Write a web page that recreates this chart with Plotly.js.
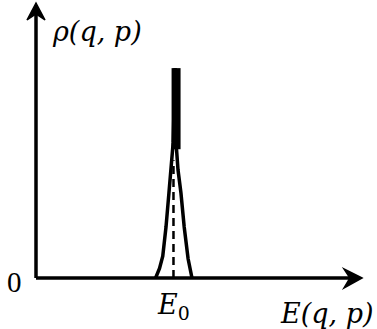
<!DOCTYPE html>
<html>
<head>
<meta charset="utf-8">
<script src="https://cdn.plot.ly/plotly-3.0.1.min.js"></script>
<style>html,body{margin:0;padding:0;background:#fff;}#chart{width:377px;height:329px;}</style>
</head>
<body>
<div id="chart"></div>
<script>
// Data (energy and density in arbitrary units)
const E0 = 4.23;
const curveX = [3.68, 3.80, 3.90, 4.00, 4.09, 4.15, 4.22, 4.28, 4.31, 4.37, 4.46, 4.56, 4.68, 4.80];
const curveY = [0.000, 0.035, 0.080, 0.186, 0.310, 0.394, 0.493, 0.766, 0.493, 0.394, 0.310, 0.186, 0.070, 0.000];
const peakX = 4.31;
const peakBarY = [0.47, 0.766];
const dashY = [0.0, 0.43];
const xLabel = 'E(q, p)';
const yLabel = 'ρ(q, p)';
const tickZero = '0';
const tickE0 = 'E';

const W = 377, H = 329;
const M = {l: 36, r: 16, t: 4, b: 51};
const pw = W - M.l - M.r, ph = H - M.t - M.b;
const px = x => (x - M.l) / pw;
const py = y => (H - M.b - y) / ph;

const font = 'DejaVu Serif, serif';

const traces = [
  {x: curveX, y: curveY, mode: 'lines', line: {color: '#000', width: 3.5}, hoverinfo: 'skip'},
  {x: [peakX, peakX], y: peakBarY, mode: 'lines', line: {color: '#000', width: 9}, hoverinfo: 'skip'},
  {x: [E0, E0], y: dashY, mode: 'lines', line: {color: '#000', width: 2.5, dash: '8px,5px'}, hoverinfo: 'skip'}
];

const layout = {
  width: W, height: H,
  margin: M,
  paper_bgcolor: '#fff', plot_bgcolor: '#fff',
  showlegend: false,
  xaxis: {range: [0, 10], visible: false, fixedrange: true},
  yaxis: {range: [0, 1], visible: false, fixedrange: true},
  shapes: [
    {type: 'line', xref: 'paper', yref: 'paper', x0: 0, y0: 0, x1: px(352), y1: 0, line: {color: '#000', width: 3.5}},
    {type: 'path', xref: 'paper', yref: 'paper',
     path: `M ${px(362)},${py(278)} L ${px(344)},${py(269)} L ${px(350)},${py(278)} L ${px(344)},${py(288)} Z`,
     fillcolor: '#000', line: {color: '#000', width: 1.5}},
    {type: 'line', xref: 'paper', yref: 'paper', x0: 0, y0: 0, x1: 0, y1: py(12), line: {color: '#000', width: 3.5}},
    {type: 'path', xref: 'paper', yref: 'paper',
     path: `M ${px(36)},${py(3)} L ${px(27)},${py(20)} L ${px(36)},${py(14)} L ${px(45)},${py(20)} Z`,
     fillcolor: '#000', line: {color: '#000', width: 1.5}}
  ],
  annotations: [
    {xref: 'paper', yref: 'paper', x: px(50), y: py(31), xanchor: 'left', yanchor: 'middle', showarrow: false,
     text: '<i>' + yLabel + '</i>', font: {family: font, size: 27, color: '#000'}},
    {xref: 'paper', yref: 'paper', x: px(376), y: py(313), xanchor: 'right', yanchor: 'middle', showarrow: false,
     text: '<i>' + xLabel + '</i>', font: {family: font, size: 27, color: '#000'}},
    {xref: 'paper', yref: 'paper', x: px(173), y: py(306), xanchor: 'center', yanchor: 'middle', showarrow: false,
     text: '<i>' + tickE0 + '</i><sub>0</sub>', font: {family: font, size: 27, color: '#000'}},
    {xref: 'paper', yref: 'paper', x: px(14), y: py(282), xanchor: 'center', yanchor: 'middle', showarrow: false,
     text: tickZero, font: {family: 'Liberation Serif, serif', size: 29, color: '#000'}}
  ]
};

Plotly.newPlot('chart', traces, layout, {staticPlot: true, displayModeBar: false});
</script>
</body>
</html>
